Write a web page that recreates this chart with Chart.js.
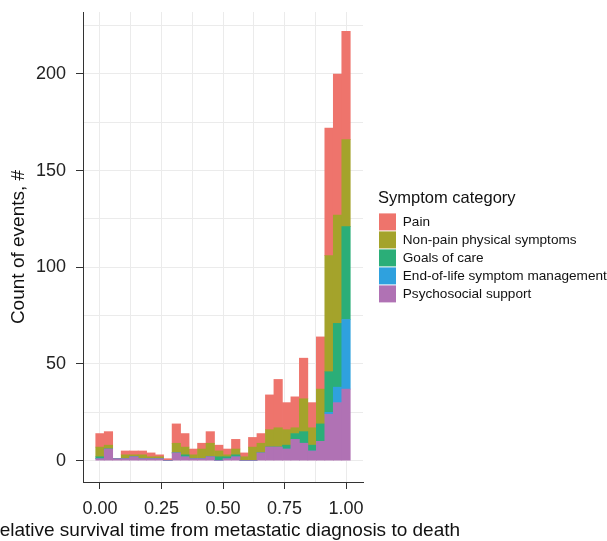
<!DOCTYPE html>
<html>
<head>
<meta charset="utf-8">
<script src="https://cdn.jsdelivr.net/npm/chart.js@4.4.1/dist/chart.umd.min.js"></script>
<style>
  html, body { margin: 0; padding: 0; background: #fff; }
  #wrap { width: 607px; height: 541px; }
</style>
</head>
<body>
<div id="wrap"><canvas id="chart"></canvas></div>
<script>
// bin centres (relative survival time), 30 bins
const binCenters = [0, 0.034483, 0.068966, 0.103448, 0.137931, 0.172414, 0.206897, 0.241379, 0.275862, 0.310345,
  0.344828, 0.379310, 0.413793, 0.448276, 0.482759, 0.517241, 0.551724, 0.586207, 0.620690, 0.655172,
  0.689655, 0.724138, 0.758621, 0.793103, 0.827586, 0.862069, 0.896552, 0.931034, 0.965517, 1];

// counts per bin, one array per symptom category
const pain        = [7, 7, 0, 2, 2, 2, 2, 1, 1, 10, 7, 3, 3, 6, 3, 3, 5, 2, 5, 5, 18, 25, 14, 16, 21, 13, 27, 66, 73, 56];
const nonPain     = [5, 2, 0, 2, 1, 2, 1, 1, 0, 5, 4, 2, 5, 7, 3, 1, 3, 2, 7, 5, 9, 10, 8, 3, 17, 9, 18, 60, 56, 45];
const goalsOfCare = [1, 0, 0, 0, 0, 0, 0, 0, 0, 0, 1, 0, 0, 0, 2, 1, 1, 0, 0, 0, 0, 0, 2, 3, 6, 3, 9, 21, 33, 48];
const endOfLife   = [0, 0, 0, 0, 0, 0, 0, 0, 0, 0, 0, 0, 0, 0, 0, 0, 0, 0, 0, 0, 0, 0, 0, 0, 0, 0, 0, 1, 8, 36];
const psychosocial= [1, 6, 1, 1, 2, 1, 1, 1, 0, 4, 2, 1, 1, 2, 0, 1, 2, 0, 0, 4, 7, 7, 6, 11, 9, 5, 10, 24, 30, 37];

const xTicks = [0, 0.125, 0.25, 0.375, 0.5, 0.625, 0.75, 0.875, 1];
const xLabels = [0, 0.25, 0.5, 0.75, 1];
const yTicks = [0, 25, 50, 75, 100, 125, 150, 175, 200, 225];
const yLabels = [0, 50, 100, 150, 200];

const xTitle = 'Relative survival time from metastatic diagnosis to death';

function toPoints(arr) {
  return arr.map((v, i) => ({ x: binCenters[i], y: v }));
}

// stacking order: first dataset sits at the bottom
const series = [
  { label: 'Psychosocial support', data: psychosocial, color: '#B072B4' },
  { label: 'End-of-life symptom management', data: endOfLife, color: '#2FA1DE' },
  { label: 'Goals of care', data: goalsOfCare, color: '#2BAE78' },
  { label: 'Non-pain physical symptoms', data: nonPain, color: '#A4A32B' },
  { label: 'Pain', data: pain, color: '#EE746C' }
];

const FONT = '"Liberation Sans", Arial, Helvetica, sans-serif';
const gridCol = '#EBEBEB';
const axisCol = '#333333';

// x title drawn by hand so it is not squeezed to the plot width (it runs off the left edge)
const xTitlePlugin = {
  id: 'xTitle',
  afterDraw(chart) {
    const { ctx, chartArea } = chart;
    ctx.save();
    ctx.font = '19px ' + FONT;
    ctx.fillStyle = '#111';
    ctx.textAlign = 'center';
    ctx.textBaseline = 'middle';
    ctx.fillText(xTitle, (chartArea.left + chartArea.right) / 2, 531);
    ctx.restore();
  }
};

new Chart(document.getElementById('chart'), {
  type: 'bar',
  data: {
    datasets: series.map(s => ({
      label: s.label,
      data: toPoints(s.data),
      backgroundColor: s.color,
      borderWidth: 0,
      barPercentage: 1,
      categoryPercentage: 1
    }))
  },
  plugins: [xTitlePlugin],
  options: {
    responsive: true,
    maintainAspectRatio: false,
    animation: false,
    layout: { padding: { left: 0, right: 0, top: 12, bottom: 12.4 } },
    plugins: {
      tooltip: { enabled: false },
      legend: {
        position: 'right',
        fullSize: false,
        reverse: true,
        maxWidth: 229,
        title: {
          display: true,
          position: 'start',
          text: 'Symptom category',
          color: '#111',
          font: { family: FONT, size: 16.5 },
          padding: { top: 0, bottom: 2 }
        },
        labels: {
          color: '#111',
          font: { family: FONT, size: 13.6 },
          boxWidth: 17,
          boxHeight: 17,
          padding: 1
        }
      }
    },
    scales: {
      x: {
        type: 'linear',
        stacked: true,
        offset: false,
        min: -0.069,
        max: 1.069,
        afterBuildTicks: axis => { axis.ticks = xTicks.map(v => ({ value: v })); },
        grid: {
          color: gridCol,
          lineWidth: 1,
          offset: false,
          drawTicks: true,
          tickLength: 7,
          tickColor: ctx => (ctx.tick && xLabels.includes(ctx.tick.value)) ? axisCol : 'rgba(0,0,0,0)'
        },
        border: { display: true, color: axisCol, width: 1 },
        ticks: {
          color: '#222',
          font: { family: FONT, size: 18 },
          padding: 9,
          maxRotation: 0,
          autoSkip: false,
          callback: v => xLabels.includes(v) ? v.toFixed(2) : ''
        }
      },
      y: {
        stacked: true,
        min: -11.05,
        max: 232.05,
        afterBuildTicks: axis => { axis.ticks = yTicks.map(v => ({ value: v })); },
        afterFit: axis => { axis.width = 83; axis.paddingTop = 0; axis.paddingBottom = 0; },
        grid: {
          color: gridCol,
          lineWidth: 1,
          drawTicks: true,
          tickLength: 7,
          tickColor: ctx => (ctx.tick && yLabels.includes(ctx.tick.value)) ? axisCol : 'rgba(0,0,0,0)'
        },
        border: { display: true, color: axisCol, width: 1 },
        ticks: {
          color: '#222',
          font: { family: FONT, size: 18 },
          padding: 10,
          autoSkip: false,
          callback: v => yLabels.includes(v) ? String(v) : ''
        },
        title: {
          display: true,
          text: 'Count of events, #',
          color: '#111',
          font: { family: FONT, size: 19 },
          padding: { top: 7, bottom: 0 }
        }
      },
      // empty spacer between the panel and the legend
      gap: {
        type: 'linear',
        position: 'right',
        display: true,
        grid: { display: false },
        border: { display: false },
        ticks: { display: false },
        afterFit: s => { s.width = 15; s.paddingTop = 0; s.paddingBottom = 0; }
      }
    }
  }
});
</script>
</body>
</html>
